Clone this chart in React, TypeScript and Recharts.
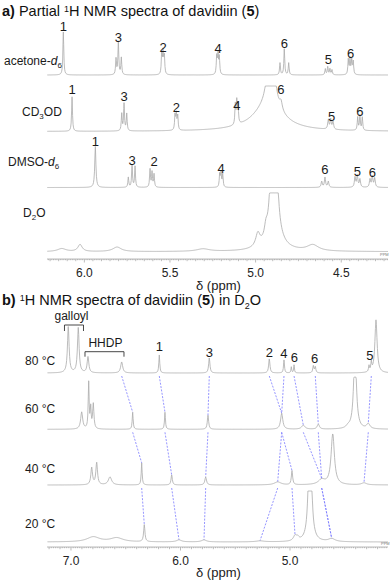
import React from 'react';
import { ComposedChart, Line, XAxis, YAxis, Scatter, ReferenceLine } from 'recharts';

type Peak = [number, number, number]; // [ppm, height, half width (ppm)]

// ---------- Panel a : partial 1H NMR spectra in four solvents ----------
const A_DOMAIN: [number, number] = [4.227, 6.218];
const A_TICKS = [6.0, 5.5, 5.0, 4.5];
const A_OFFSETS = { acetone: 184, cd3od: 127.5, dmso: 71.5, d2o: 7.3 };

const ACETONE_PEAKS: Peak[] = [
  [6.1226, 43, 0.003],
  [5.815, 16, 0.003], [5.8014, 33, 0.003], [5.784, 17, 0.003],
  [5.5482, 20, 0.003], [5.5406, 22, 0.003], [5.533, 18, 0.003],
  [5.227, 18, 0.003], [5.2195, 20, 0.003], [5.212, 17, 0.003],
  [4.8576, 12, 0.003], [4.8325, 26, 0.003], [4.8068, 12, 0.003],
  [4.593, 6, 0.003], [4.579, 8, 0.003], [4.566, 6, 0.003], [4.554, 5, 0.003],
  [4.4589, 15, 0.003], [4.449, 16, 0.003], [4.439, 14, 0.003], [4.43, 13, 0.003],
];
const CD3OD_PEAKS: Peak[] = [
  [6.0718, 34.5, 0.003],
  [5.7817, 17, 0.003], [5.7682, 27, 0.003], [5.7525, 17, 0.003],
  [5.4705, 15, 0.003], [5.463, 16, 0.003], [5.4548, 14, 0.003],
  [5.1185, 20, 0.003], [5.11, 22, 0.003], [5.1027, 19, 0.003],
  [4.9276, 25, 0.105], [4.91, 200, 0.0117], [4.8517, 8, 0.009],
  [4.5756, 9, 0.004], [4.5616, 10, 0.004], [4.548, 8, 0.004],
  [4.404, 13, 0.003], [4.391, 15, 0.003], [4.377, 13, 0.003],
];
const DMSO_PEAKS: Peak[] = [
  [5.9358, 41, 0.004],
  [5.7431, 10, 0.003], [5.7215, 22, 0.003], [5.704, 21, 0.003],
  [5.6165, 18, 0.003], [5.6048, 15, 0.003], [5.5931, 13, 0.003],
  [5.2096, 13, 0.003], [5.202, 14, 0.003], [5.192, 13, 0.003],
  [4.6141, 6, 0.004], [4.5949, 10, 0.004], [4.5756, 6, 0.004],
  [4.4197, 10, 0.004], [4.4063, 12, 0.004], [4.391, 8, 0.004],
  [4.3322, 8, 0.004], [4.3187, 11, 0.004], [4.3047, 9, 0.004],
];
const D2O_PEAKS: Peak[] = [
  [6.132, 3, 0.03], [6.025, 7, 0.015], [5.809, 4.5, 0.03], [5.307, 2.5, 0.045],
  [4.987, 13, 0.015], [4.94, 10, 0.01], [4.893, 400, 0.01], [4.89, 8, 0.06],
  [4.666, 6, 0.04],
];
const A_CLIP = { acetone: 999, cd3od: 45.5, dmso: 999, d2o: 58.8 };

const A_NUMBERS = [
  { x: 6.1226, y: 233, t: '1' }, { x: 5.8014, y: 222, t: '3' }, { x: 5.5406, y: 212, t: '2' },
  { x: 5.2195, y: 211, t: '4' }, { x: 4.8325, y: 216, t: '6' }, { x: 4.575, y: 200, t: '5' },
  { x: 4.445, y: 206, t: '6' },
  { x: 6.0718, y: 170, t: '1' }, { x: 5.7682, y: 163, t: '3' }, { x: 5.463, y: 151.5, t: '2' },
  { x: 5.11, y: 154, t: '4' }, { x: 4.852, y: 169.5, t: '6' }, { x: 4.5566, y: 143, t: '5' },
  { x: 4.391, y: 147.3, t: '6' },
  { x: 5.9358, y: 117.3, t: '1' }, { x: 5.7215, y: 99, t: '3' }, { x: 5.5931, y: 97.3, t: '2' },
  { x: 5.202, y: 91, t: '4' }, { x: 4.5949, y: 90, t: '6' }, { x: 4.4063, y: 87.3, t: '5' },
  { x: 4.3187, y: 86.7, t: '6' },
];

// ---------- Panel b : variable temperature spectra in D2O ----------
const B_DOMAIN: [number, number] = [4.105, 7.219];
const B_TICKS = [7.0, 6.0, 5.0];
const B_OFFSETS = { t80: 174, t60: 117.7, t40: 62, t20: 5 };

const T80_PEAKS: Peak[] = [
  [7.0247, 46, 0.009], [6.9333, 45, 0.009],
  [6.8447, 16, 0.009], [6.537, 11, 0.011],
  [6.1936, 18, 0.005], [5.737, 15, 0.007], [5.189, 14, 0.007], [5.0548, 13, 0.005],
  [4.988, 6, 0.004], [4.963, 8, 0.004], [4.787, 7, 0.006], [4.769, 6, 0.006],
  [4.2785, 6, 0.005], [4.2575, 9, 0.005], [4.2146, 53, 0.012],
];
const T60_PEAKS: Peak[] = [
  [6.9023, 17, 0.011], [6.8384, 46, 0.005], [6.82, 20, 0.005], [6.7963, 25, 0.007],
  [6.4365, 17, 0.005], [6.1416, 17, 0.005], [5.7489, 14, 0.007], [5.0758, 16, 0.012],
  [4.8785, 4, 0.018], [4.7416, 5, 0.012], [4.47, 2, 0.02], [4.4064, 80, 0.015],
  [4.285, 5, 0.018],
];
const T40_PEAKS: Peak[] = [
  [6.811, 17, 0.009], [6.7653, 22, 0.009], [6.6438, 8, 0.018],
  [6.3543, 22, 0.005], [6.0804, 10, 0.007], [5.7699, 8, 0.009],
  [5.1123, 3, 0.036], [4.9817, 14, 0.007], [4.7105, 5, 0.036],
  [4.6096, 51, 0.018], [4.3242, 2, 0.027],
];
const T20_PEAKS: Peak[] = [
  [6.7963, 5, 0.07], [6.5826, 4, 0.07],
  [6.3306, 17, 0.007], [6.0137, 2, 0.027], [5.7854, 2, 0.027], [5.274, 1, 0.045],
  [4.9543, 5, 0.018], [4.93, 3, 0.015], [4.8174, 150, 0.0137], [4.6192, 3, 0.036],
];
const B_CLIP = { t80: 999, t60: 52.3, t40: 51, t20: 51 };

// proton shifts at 80, 60, 40, 20 °C (null = not traced)
const SHIFT_HHDP = [6.537, 6.4365, 6.3543, 6.3306];
const SHIFT_H1 = [6.1936, 6.1416, 6.0804, 6.0137];
const SHIFT_H3 = [5.737, 5.7489, 5.7699, 5.7854];
const SHIFT_H2 = [5.189, 5.0758, 5.1123, 5.274];
const SHIFT_H4 = [5.0548, 5.0758, 4.9817, 4.9543];
const SHIFT_H6A = [4.963, 4.8785, 4.7105, 4.6192];
const SHIFT_H6B = [4.769, 4.7416, 4.7105, 4.6192];
const SHIFT_H5: (number | null)[] = [4.2575, 4.285, 4.3242, null];

const B_NUMBERS = [
  { x: 6.1936, y: 200.3, t: '1' }, { x: 5.737, y: 195, t: '3' }, { x: 5.189, y: 195, t: '2' },
  { x: 5.0548, y: 194, t: '4' }, { x: 4.96, y: 190, t: '6' }, { x: 4.775, y: 189, t: '6' },
  { x: 4.27, y: 192, t: '5' },
  { x: 6.995, y: 231, t: 'galloyl' }, { x: 6.685, y: 203.7, t: 'HHDP' },
];
const BRACKET_GALLOYL = { from: 7.0594, to: 6.8858, top: 222, end: 216 };
const BRACKET_HHDP = { from: 6.8721, to: 6.516, top: 195.3, end: 190.3 };

// ---------- helpers ----------
const valueAt = (peaks: Peak[], clip: number, x: number) => {
  let v = 0;
  for (const [c, h, w] of peaks) {
    const d = (x - c) / w;
    v += h / (1 + d * d);
  }
  return Math.min(v, clip);
};
const buildTrace = (peaks: Peak[], offset: number, clip: number, dom: [number, number], step: number) => {
  const xs: number[] = [];
  for (let x = dom[0]; x <= dom[1] + 1e-9; x += step) xs.push(x);
  peaks.forEach((p) => { if (p[0] > dom[0] && p[0] < dom[1]) xs.push(p[0]); });
  xs.sort((a, b) => a - b);
  return xs.map((x) => ({ x, y: offset + valueAt(peaks, clip, x) }));
};

const A_TRACES = [
  buildTrace(ACETONE_PEAKS, A_OFFSETS.acetone, A_CLIP.acetone, A_DOMAIN, 0.0029),
  buildTrace(CD3OD_PEAKS, A_OFFSETS.cd3od, A_CLIP.cd3od, A_DOMAIN, 0.0029),
  buildTrace(DMSO_PEAKS, A_OFFSETS.dmso, A_CLIP.dmso, A_DOMAIN, 0.0029),
  buildTrace(D2O_PEAKS, A_OFFSETS.d2o, A_CLIP.d2o, A_DOMAIN, 0.0029),
];
const B_SETS: [Peak[], number, number][] = [
  [T80_PEAKS, B_OFFSETS.t80, B_CLIP.t80],
  [T60_PEAKS, B_OFFSETS.t60, B_CLIP.t60],
  [T40_PEAKS, B_OFFSETS.t40, B_CLIP.t40],
  [T20_PEAKS, B_OFFSETS.t20, B_CLIP.t20],
];
const B_TRACES = B_SETS.map(([p, o, c]) => buildTrace(p, o, c, B_DOMAIN, 0.0046));

const buildConnector = (shifts: (number | null)[]) => {
  const pts: { x: number; y: number | null }[] = [];
  for (let i = 0; i < shifts.length - 1; i++) {
    const a = shifts[i];
    const b = shifts[i + 1];
    if (a == null || b == null) continue;
    const [pb, ob, cb] = B_SETS[i + 1];
    pts.push({ x: a, y: B_SETS[i][1] - 3 });
    pts.push({ x: b, y: ob + valueAt(pb, cb, b) });
    pts.push({ x: b, y: null });
  }
  return pts;
};
const CONNECTORS = [SHIFT_HHDP, SHIFT_H1, SHIFT_H3, SHIFT_H2, SHIFT_H4, SHIFT_H6A, SHIFT_H6B, SHIFT_H5].map(buildConnector);

const tickList = (dom: [number, number], step: number) => {
  const out: number[] = [];
  const start = Math.ceil(dom[0] / step - 1e-9);
  const end = Math.floor(dom[1] / step + 1e-9);
  for (let i = start; i <= end; i++) out.push(Math.round(i * step * 1000) / 1000);
  return out;
};
const A_MINOR = tickList(A_DOMAIN, 0.01);
const B_MINOR = tickList(B_DOMAIN, 0.02);

const near = (v: number, step: number) => Math.abs(v / step - Math.round(v / step)) < 1e-6;

const makeTick = (majors: number[], mid: number) => (props: any) => {
  const { x, y, payload } = props;
  const v = payload.value as number;
  const axisY = y - 8;
  const isMajor = majors.some((m) => Math.abs(m - v) < 1e-6);
  const len = isMajor ? 3.5 : near(v, mid) ? 2.2 : 1.2;
  return (
    <g>
      <line x1={x} x2={x} y1={axisY} y2={axisY + len} stroke="#a8a8a8" strokeWidth={0.8} />
      {isMajor && (
        <text x={x} y={axisY + 17.5} textAnchor="middle" fontSize={12} fill="#222">
          {v.toFixed(1)}
        </text>
      )}
    </g>
  );
};

const TextShape = (props: any) => {
  const t = props.payload.t as string;
  return (
    <text x={props.cx} y={props.cy} textAnchor="middle" dominantBaseline="central" fontSize={t.length > 1 ? 12 : 13} fill="#1a1a1a">
      {t}
    </text>
  );
};

const TRACE = '#ababab';
const FONT = '"Liberation Sans", Arial, Helvetica, sans-serif';

const Lbl = ({ left, cy, size = 12, children }: { left: number; cy: number; size?: number; children: React.ReactNode }) => (
  <div style={{ position: 'absolute', left, top: cy - size * 0.55, fontSize: size, lineHeight: `${size * 1.1}px`, whiteSpace: 'nowrap', color: '#1a1a1a' }}>
    {children}
  </div>
);

export default function App() {
  const bracketSegs = (b: { from: number; to: number; top: number; end: number }, key: string) => [
    <ReferenceLine key={key + 'l'} ifOverflow="visible" segment={[{ x: b.from, y: b.end }, { x: b.from, y: b.top }]} stroke="#333" strokeWidth={0.9} />,
    <ReferenceLine key={key + 't'} ifOverflow="visible" segment={[{ x: b.from, y: b.top }, { x: b.to, y: b.top }]} stroke="#333" strokeWidth={0.9} />,
    <ReferenceLine key={key + 'r'} ifOverflow="visible" segment={[{ x: b.to, y: b.top }, { x: b.to, y: b.end }]} stroke="#333" strokeWidth={0.9} />,
  ];
  return (
    <div style={{ position: 'absolute', left: 0, top: 0, width: 390, height: 581, background: '#fff', fontFamily: FONT, overflow: 'hidden' }}>
      {/* Panel a */}
      <div style={{ position: 'absolute', left: 0, top: 0 }}>
        <ComposedChart width={390} height={301} margin={{ top: 18, right: 2, bottom: 12, left: 47 }}>
          <XAxis
            type="number"
            dataKey="x"
            domain={A_DOMAIN}
            reversed
            allowDataOverflow
            ticks={A_MINOR}
            interval={0}
            tickLine={false}
            tickSize={6}
            tickMargin={2}
            height={30}
            axisLine={{ stroke: '#a8a8a8', strokeWidth: 0.8 }}
            tick={makeTick(A_TICKS, 0.05)}
          />
          <YAxis type="number" domain={[0, 241]} hide allowDataOverflow />
          {A_TRACES.map((d, i) => (
            <Line key={'a' + i} data={d} dataKey="y" type="linear" stroke={TRACE} strokeWidth={0.8} dot={false} isAnimationActive={false} />
          ))}
          <Scatter data={A_NUMBERS} dataKey="y" shape={TextShape} isAnimationActive={false} />
        </ComposedChart>
      </div>
      <div style={{ position: 'absolute', left: 2, top: 4, fontSize: 14.5, lineHeight: '15px', whiteSpace: 'nowrap', color: '#111' }}>
        <b>a)</b> Partial <sup style={{ fontSize: 9, verticalAlign: 'top', position: 'relative', top: -2 }}>1</sup>H NMR spectra of davidiin (<b>5</b>)
      </div>
      <Lbl left={4} cy={61.7}>acetone-<i>d</i><sub style={{ fontSize: 8 }}>6</sub></Lbl>
      <Lbl left={22} cy={113}>CD<sub style={{ fontSize: 8 }}>3</sub>OD</Lbl>
      <Lbl left={8} cy={163}>DMSO-<i>d</i><sub style={{ fontSize: 8 }}>6</sub></Lbl>
      <Lbl left={23} cy={214}>D<sub style={{ fontSize: 8 }}>2</sub>O</Lbl>
      <Lbl left={196} cy={286} size={13}>δ (ppm)</Lbl>
      <div style={{ position: 'absolute', left: 380, top: 252, fontSize: 4, color: '#777' }}>PPM</div>

      {/* Panel b */}
      <div style={{ position: 'absolute', left: 0, top: 290 }}>
        <ComposedChart width={390} height={291} margin={{ top: 10, right: 2, bottom: 4, left: 47 }}>
          <XAxis
            type="number"
            dataKey="x"
            domain={B_DOMAIN}
            reversed
            allowDataOverflow
            ticks={B_MINOR}
            interval={0}
            tickLine={false}
            tickSize={6}
            tickMargin={2}
            height={30}
            axisLine={{ stroke: '#a8a8a8', strokeWidth: 0.8 }}
            tick={makeTick(B_TICKS, 0.1)}
          />
          <YAxis type="number" domain={[0, 247]} hide allowDataOverflow />
          {CONNECTORS.map((d, i) => (
            <Line key={'c' + i} data={d} dataKey="y" type="linear" stroke="#7a7aff" strokeWidth={0.8} strokeDasharray="2 1.4" dot={false} connectNulls={false} isAnimationActive={false} />
          ))}
          {B_TRACES.map((d, i) => (
            <Line key={'b' + i} data={d} dataKey="y" type="linear" stroke={TRACE} strokeWidth={0.8} dot={false} isAnimationActive={false} />
          ))}
          {bracketSegs(BRACKET_GALLOYL, 'g')}
          {bracketSegs(BRACKET_HHDP, 'h')}
          <Scatter data={B_NUMBERS} dataKey="y" shape={TextShape} isAnimationActive={false} />
        </ComposedChart>
      </div>
      <div style={{ position: 'absolute', left: 2, top: 293, fontSize: 14.5, lineHeight: '15px', whiteSpace: 'nowrap', color: '#111' }}>
        <b>b)</b> <sup style={{ fontSize: 9, verticalAlign: 'top', position: 'relative', top: -2 }}>1</sup>H NMR spectra of davidiin (<b>5</b>) in D<sub style={{ fontSize: 9 }}>2</sub>O
      </div>
      <Lbl left={25} cy={362}>80 °C</Lbl>
      <Lbl left={25} cy={410}>60 °C</Lbl>
      <Lbl left={25} cy={470}>40 °C</Lbl>
      <Lbl left={25} cy={525}>20 °C</Lbl>
      <Lbl left={196} cy={573.3} size={13}>δ (ppm)</Lbl>
      <div style={{ position: 'absolute', left: 381, top: 541, fontSize: 4, color: '#777' }}>PPM</div>
    </div>
  );
}
